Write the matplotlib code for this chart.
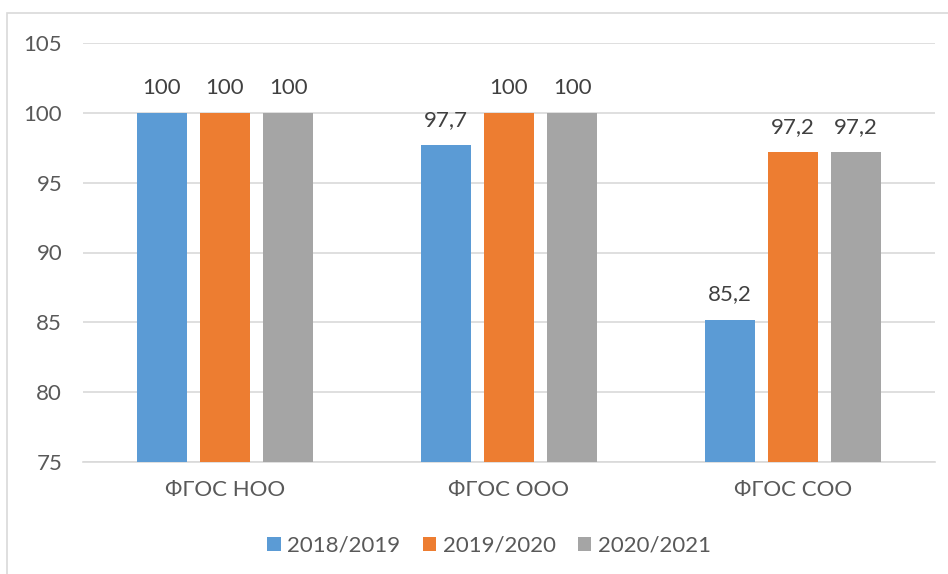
import numpy as np
import matplotlib.pyplot as plt
from matplotlib.patches import Rectangle

plt.rcParams['font.family'] = ['Lato', 'DejaVu Sans']

categories = ['ФГОС НОО', 'ФГОС ООО', 'ФГОС СОО']
series_names = ['2018/2019', '2019/2020', '2020/2021']
values_2018 = [100, 97.7, 85.2]
values_2019 = [100, 100, 97.2]
values_2020 = [100, 100, 97.2]
colors = ['#5B9BD5', '#ED7D31', '#A5A5A5']
text_color = '#595959'

fig = plt.figure(figsize=(9.48, 5.74), dpi=100)
ax = fig.add_axes([83 / 948, 1 - 462 / 574, 852 / 948, 419 / 574])

# chart frame (cut off on right/bottom in the original)
fig.patches.append(Rectangle((7 / 948, -0.1), 1.2, (574 - 13) / 574 + 0.1,
                             transform=fig.transFigure, fill=False,
                             edgecolor='#D9D9D9', linewidth=1.2))

x = np.arange(len(categories))
width = 0.176
step = 0.222
all_series = [values_2018, values_2019, values_2020]
for i, (vals, name) in enumerate(zip(all_series, series_names)):
    pos = x + (i - 1) * step
    bars = ax.bar(pos, vals, width, color=colors[i], label=name, zorder=3)
    for b, v in zip(bars, vals):
        lbl = f'{v:g}'.replace('.', ',')
        ax.annotate(lbl, (b.get_x() + b.get_width() / 2, v), xytext=(0, 11),
                    textcoords='offset points', ha='center', va='bottom',
                    fontsize=16, color='#404040')

ax.set_ylim(75, 105)
ax.set_xlim(-0.5, 2.5)
ax.set_yticks(np.arange(75, 106, 5))
ax.set_xticks(x)
ax.set_xticklabels(categories)
ax.tick_params(axis='both', length=0, labelsize=16, labelcolor=text_color)
ax.tick_params(axis='y', pad=15)
ax.tick_params(axis='x', pad=13)
ax.yaxis.grid(True, color='#D9D9D9', linewidth=1.2, zorder=0)
for s in ['top', 'right', 'left']:
    ax.spines[s].set_visible(False)
ax.spines['bottom'].set_color('#D9D9D9')
ax.spines['bottom'].set_linewidth(1.2)

leg = fig.legend(loc='center', bbox_to_anchor=(489 / 948, 1 - 546 / 574), ncol=3,
                 frameon=False, fontsize=16, handlelength=0.6, handleheight=0.6,
                 handletextpad=0.3, columnspacing=1.0)
for t in leg.get_texts():
    t.set_color(text_color)

fig.savefig('out.png', dpi=100)
